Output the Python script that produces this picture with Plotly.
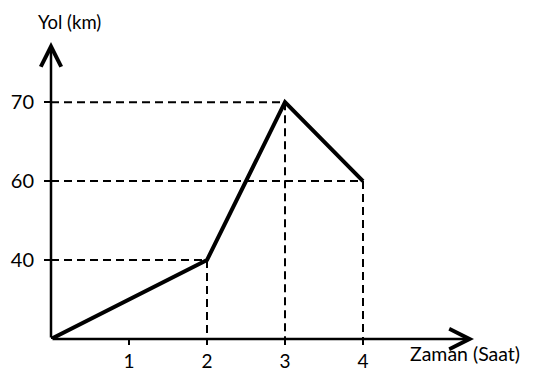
import plotly.graph_objects as go

# Yol-zaman grafiği (çizim ölçekli değil: düşey eksen eşit aralıklı)
zaman = [0, 2, 3, 4]            # saat
yol = ["0", "40", "70", "60"]   # km
yol_etiketleri = ["0", "40", "60", "70"]
zaman_etiketleri = [1, 2, 3, 4]

fig = go.Figure()

# kesikli yardımcı çizgiler: her noktadan eksenlere
kx, ky = [], []
for t, d in zip(zaman[1:], yol[1:]):
    kx += [0, t, t, None]
    ky += [d, d, "0", None]

fig.add_trace(go.Scatter(
    x=kx, y=ky,
    mode="lines",
    line=dict(color="black", width=2, dash="8px,5px"),
    hoverinfo="skip",
    showlegend=False
))

fig.add_trace(go.Scatter(
    x=zaman, y=yol,
    mode="lines",
    line=dict(color="black", width=4),
    showlegend=False
))

# eksen okları
fig.add_annotation(x=0, y=0.99, xref="paper", yref="paper",
                   ax=0, ay=297, axref="pixel", ayref="pixel",
                   text="", showarrow=True, arrowhead=5, arrowsize=1.6,
                   arrowwidth=2.5, arrowcolor="black", standoff=0)
fig.add_annotation(x=0.986, y=0, xref="paper", yref="paper",
                   ax=-423, ay=0, axref="pixel", ayref="pixel",
                   text="", showarrow=True, arrowhead=5, arrowsize=1.6,
                   arrowwidth=2.5, arrowcolor="black", standoff=0)

# eksen başlıkları
fig.add_annotation(x=0.24, y=1.1, xref="x", yref="paper",
                   text="Yol (km)", showarrow=False,
                   xanchor="center", yanchor="top",
                   font=dict(size=18.5, color="black"))
fig.add_annotation(x=5.31, y=-0.047, xref="x", yref="paper",
                   text="Zaman (Saat)", showarrow=False,
                   xanchor="center", yanchor="middle",
                   font=dict(size=19.5, color="black"))

fig.update_xaxes(
    range=[0, 5.5],
    tickvals=zaman_etiketleri,
    ticks="outside", ticklen=5, tickwidth=2, tickcolor="black",
    showgrid=False, zeroline=False, showline=False, automargin=False,
    tickfont=dict(size=19, color="black")
)
fig.update_yaxes(
    type="category",
    categoryorder="array", categoryarray=yol_etiketleri,
    range=[0, 3.8],
    tickvals=yol_etiketleri[1:],
    ticks="outside", ticklen=6, tickwidth=2, tickcolor="black",
    ticklabelstandoff=6,
    showgrid=False, zeroline=False, showline=False, automargin=False,
    tickfont=dict(size=20, color="black")
)

# sayfa gövdesinin 8px kenar boşluğu için küçültülmüş boyut
fig.update_layout(
    width=536, height=364,
    margin=dict(l=43, r=64, t=31, b=33, autoexpand=False),
    plot_bgcolor="white",
    paper_bgcolor="white",
    font=dict(family="Lato", size=19, color="black"),
    showlegend=False
)

fig.write_html("out.html")
